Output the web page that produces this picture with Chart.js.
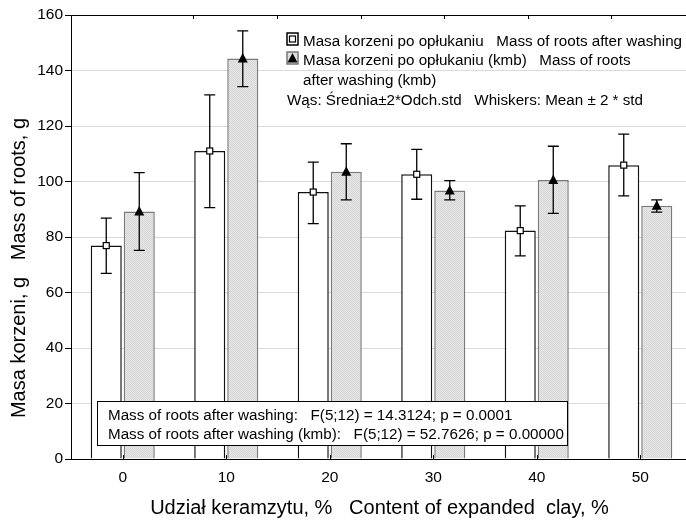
<!DOCTYPE html>
<html>
<head>
<meta charset="utf-8">
<script src="https://cdn.jsdelivr.net/npm/chart.js@4.4.1/dist/chart.umd.min.js"></script>
<style>
html, body { margin: 0; padding: 0; background: #fff; overflow: hidden; }
#wrap { width: 700px; height: 521px; }
</style>
</head>
<body>
<div id="wrap"><canvas id="chart" width="700" height="521"></canvas></div>
<script>
// Values (mean, mean + 2*std, mean - 2*std)
const categories = ['0', '10', '20', '30', '40', '50'];
const washMean  = [76.9, 111.0, 96.2, 102.6, 82.3, 105.9];
const washUpper = [86.8, 131.2, 107.0, 111.6, 91.2, 117.1];
const washLower = [66.9, 90.6, 84.8, 93.6, 73.2, 94.8];
const kmbMean   = [89.2, 144.3, 103.5, 96.8, 100.5, 91.3];
const kmbUpper  = [103.2, 154.3, 113.6, 100.3, 112.7, 93.4];
const kmbLower  = [75.2, 134.2, 93.4, 93.4, 88.5, 89.0];

const legendLines = [
    'Masa korzeni po opłukaniu   Mass of roots after washing',
    'Masa korzeni po opłukaniu (kmb)   Mass of roots',
    'after washing (kmb)',
    'Wąs: Średnia±2*Odch.std   Whiskers: Mean ± 2 * std'
];
const statsLines = [
    'Mass of roots after washing:   F(5;12) = 14.3124; p = 0.0001',
    'Mass of roots after washing (kmb):   F(5;12) = 52.7626; p = 0.00000'
];
const yTitle = 'Masa korzeni, g   Mass of roots, g';
const xTitle = 'Udział keramzytu, %   Content of expanded  clay, %';

const FONT = "'Liberation Sans', Arial, sans-serif";
Chart.defaults.font.family = FONT;
Chart.defaults.color = '#000';

const canvas = document.getElementById('chart');
const ctx = canvas.getContext('2d');

// dotted light grey fill like the original
function grayPattern() {
    const c = document.createElement('canvas');
    c.width = 2; c.height = 2;
    const g = c.getContext('2d');
    g.fillStyle = '#e6e6e6'; g.fillRect(0, 0, 2, 2);
    g.fillStyle = '#d6d6d6'; g.fillRect(0, 0, 1, 1); g.fillRect(1, 1, 1, 1);
    return ctx.createPattern(c, 'repeat');
}
const grayFill = grayPattern();

function drawMarker(c, type, x, y) {
    c.save();
    if (type === 'square') {
        c.fillStyle = '#fff';
        c.strokeStyle = '#000';
        c.lineWidth = 1.2;
        c.fillRect(x - 3, y - 3, 6, 6);
        c.strokeRect(x - 3, y - 3, 6, 6);
    } else {
        c.fillStyle = '#000';
        c.beginPath();
        c.moveTo(x, y - 5.5);
        c.lineTo(x + 5, y + 4);
        c.lineTo(x - 5, y + 4);
        c.closePath();
        c.fill();
    }
    c.restore();
}

// whiskers + mean markers, positioned from the bar elements and the y scale
const errorBars = {
    id: 'errorBars',
    afterDatasetsDraw(chart) {
        const c = chart.ctx, y = chart.scales.y;
        chart.data.datasets.forEach((ds, i) => {
            chart.getDatasetMeta(i).data.forEach((bar, j) => {
                const x = bar.x;
                const yu = y.getPixelForValue(ds.upper[j]);
                const yl = y.getPixelForValue(ds.lower[j]);
                const ym = y.getPixelForValue(ds.data[j]);
                c.save();
                c.strokeStyle = '#000';
                c.lineWidth = 1.3;
                c.beginPath();
                c.moveTo(x, yu); c.lineTo(x, yl);
                c.moveTo(x - 5.5, yu); c.lineTo(x + 5.5, yu);
                c.moveTo(x - 5.5, yl); c.lineTo(x + 5.5, yl);
                c.stroke();
                c.restore();
                drawMarker(c, ds.marker, x, ym);
            });
        });
    }
};

// titles, inner ticks, legend and stats box
const decor = {
    id: 'decor',
    afterDraw(chart) {
        const c = chart.ctx, a = chart.chartArea;
        const xs = chart.scales.x, xt = chart.scales.xTop;
        c.save();
        c.strokeStyle = '#000';
        c.lineWidth = 1;
        c.beginPath();
        xs.ticks.forEach((t, i) => {
            const px = Math.round(xs.getPixelForTick(i)) + 0.5;
            c.moveTo(px, a.bottom); c.lineTo(px, a.bottom - 4);
        });
        xt.ticks.filter(t => Number.isInteger(t.value) && t.value > 0).forEach(t => {
            const px = Math.round(xt.getPixelForValue(t.value)) + 0.5;
            c.moveTo(px, a.top); c.lineTo(px, a.top + 4);
        });
        c.stroke();

        // axis titles
        c.fillStyle = '#000';
        c.font = '20px ' + FONT;
        c.textAlign = 'center';
        c.textBaseline = 'alphabetic';
        c.fillText(xTitle, (a.left + a.right) / 2 - 2, 514);
        c.save();
        c.translate(25, 268);
        c.rotate(-Math.PI / 2);
        c.fillText(yTitle, 0, 0);
        c.restore();

        // legend
        const lx = 287;
        c.textAlign = 'left';
        c.font = '15.2px ' + FONT;
        c.fillStyle = '#fff';
        c.fillRect(lx, 33, 11, 12);
        c.strokeStyle = '#000';
        c.lineWidth = 1.5;
        c.strokeRect(lx, 33, 11, 12);
        drawMarker(c, 'square', lx + 5.5, 39);
        c.fillStyle = grayFill;
        c.fillRect(lx, 52, 11, 12);
        c.strokeStyle = '#777';
        c.strokeRect(lx, 52, 11, 12);
        drawMarker(c, 'triangle', lx + 5.5, 58.5);
        c.fillStyle = '#000';
        c.fillText(legendLines[0], 303, 46);
        c.fillText(legendLines[1], 303, 65);
        c.fillText(legendLines[2], 303, 85);
        c.fillText(legendLines[3], lx, 105);

        // stats box
        c.fillStyle = '#fff';
        c.fillRect(97.5, 401.5, 470, 44);
        c.strokeStyle = '#000';
        c.lineWidth = 1;
        c.strokeRect(97.5, 401.5, 470, 44);
        c.fillStyle = '#000';
        c.font = '15.2px ' + FONT;
        c.fillText(statsLines[0], 108, 419.5);
        c.fillText(statsLines[1], 108, 438.5);
        c.restore();
    }
};

new Chart(ctx, {
    type: 'bar',
    data: {
        labels: categories,
        datasets: [
            {
                label: 'Mass of roots after washing',
                data: washMean,
                upper: washUpper,
                lower: washLower,
                marker: 'square',
                backgroundColor: '#fff',
                borderColor: '#111',
                borderWidth: 1.5
            },
            {
                label: 'Mass of roots after washing (kmb)',
                data: kmbMean,
                upper: kmbUpper,
                lower: kmbLower,
                marker: 'triangle',
                backgroundColor: grayFill,
                borderColor: '#7a7a7a',
                borderWidth: 1.5
            }
        ]
    },
    options: {
        responsive: false,
        animation: false,
        layout: { padding: { top: 15, right: 8, left: 0, bottom: 0 } },
        datasets: { bar: { categoryPercentage: 0.638, barPercentage: 0.94 } },
        plugins: { legend: { display: false }, tooltip: { enabled: false } },
        scales: {
            x: {
                position: 'bottom',
                offset: true,
                grid: { display: false, drawTicks: false },
                border: { display: true, color: '#000', width: 1 },
                ticks: { color: '#000', font: { size: 15.5 }, padding: 9 },
                afterFit: s => { s.height = 62; }
            },
            xTop: {
                type: 'linear',
                position: 'top',
                min: 0,
                max: 6.5,
                ticks: { display: false, stepSize: 1 },
                grid: { display: false, drawTicks: false },
                border: { display: true, color: '#000', width: 1 },
                afterFit: s => { s.height = 0; }
            },
            y: {
                min: 0,
                max: 160,
                ticks: { stepSize: 20, color: '#000', font: { size: 15.5 }, padding: 2 },
                grid: {
                    color: c => (c.tick && (c.tick.value === 0 || c.tick.value === 160)) ? 'rgba(0,0,0,0)' : '#dadada',
                    tickColor: '#000',
                    tickLength: 6,
                    lineWidth: 1
                },
                border: { display: true, color: '#000', width: 1 },
                afterFit: s => { s.width = 71; }
            }
        }
    },
    plugins: [errorBars, decor]
});
</script>
</body>
</html>
